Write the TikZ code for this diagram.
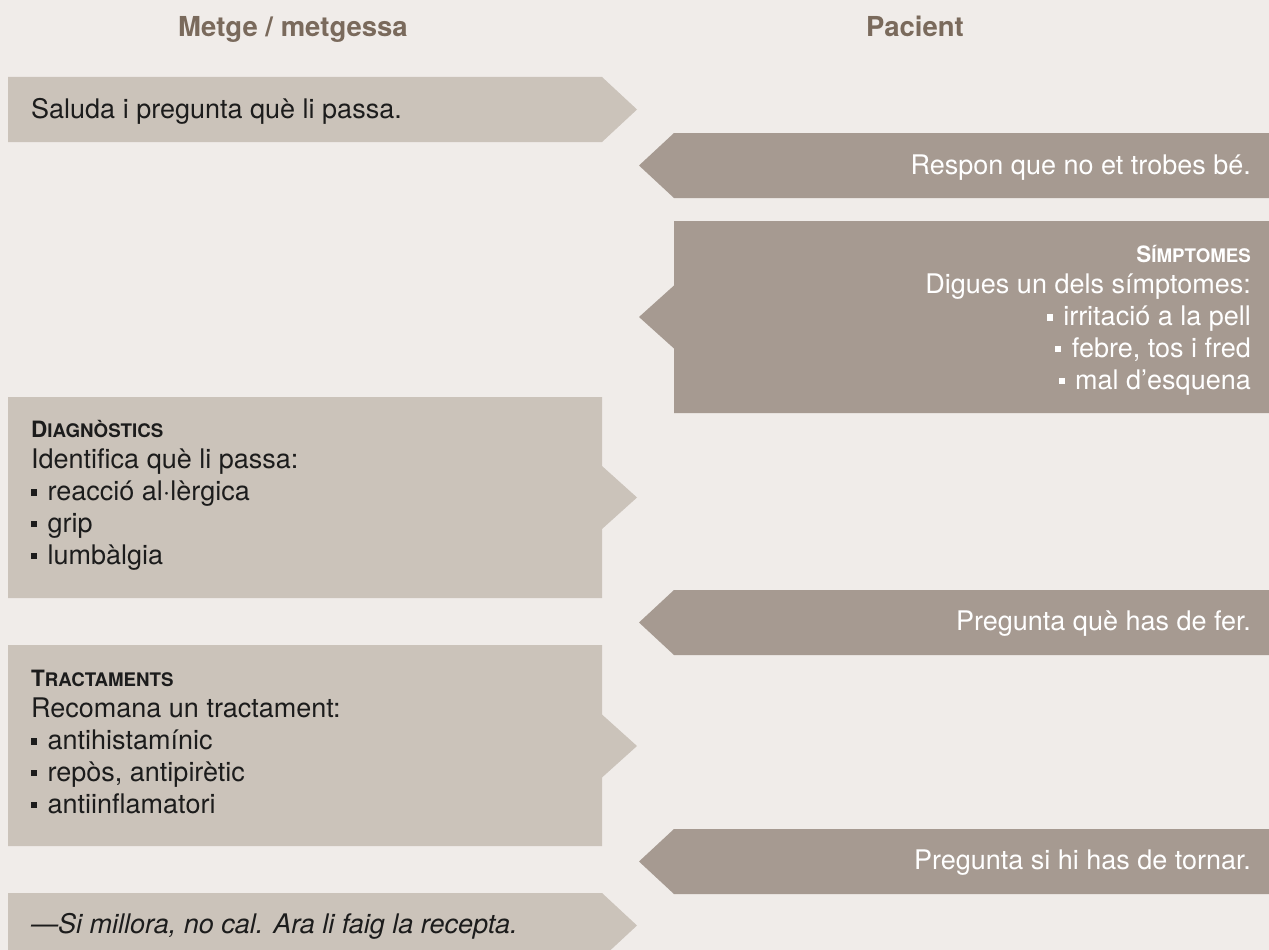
\documentclass[tikz,border=0pt]{standalone}
\usepackage{fontspec}
\setmainfont{TeX Gyre Heros}
\definecolor{bgc}{HTML}{F0ECE9}
\definecolor{lboxc}{HTML}{CBC3BA}
\definecolor{rboxc}{HTML}{A69A91}
\definecolor{headc}{HTML}{7A6A5C}
\definecolor{txtc}{HTML}{1C1C1C}
\newcommand\bul{\rule[5pt]{6pt}{6.5pt}\hspace{10.5pt}}
\newcommand\hd[2]{{\bfseries\fontsize{22.5}{24}\selectfont #1\fontsize{18.7}{24}\selectfont #2}}
\tikzset{
  lbox/.style={fill=lboxc},
  rbox/.style={fill=rboxc},
  head/.style={inner sep=0pt, anchor=base, text=headc, font=\fontsize{27.5}{32}\selectfont\bfseries},
  ltxt/.style={inner sep=0pt, anchor=base west, text=txtc, font=\fontsize{27}{31.75}\selectfont},
  rtxt/.style={inner sep=0pt, anchor=base east, text=white, font=\fontsize{27}{31.75}\selectfont},
}
\begin{document}
\begin{tikzpicture}[x=1pt,y=-1pt]
\useasboundingbox (0,0) rectangle (1269,950);
\fill[bgc] (0,0) rectangle (1269,950);

% headers
\node[head] (hm) at (293,37) {Metge / metgessa};
\node[head] (hp) at (915,37) {Pacient};

% left boxes
\fill[lbox] (8,77) -- (602,77) -- (637,109.5) -- (602,142) -- (8,142) -- cycle;
\fill[lbox] (8,397) -- (602,397) -- (602,466) -- (637,497.5) -- (602,529) -- (602,598) -- (8,598) -- cycle;
\fill[lbox] (8,645) -- (602,645) -- (602,714.5) -- (637,746) -- (602,777.5) -- (602,846) -- (8,846) -- cycle;
\fill[lbox] (8,893) -- (602,893) -- (637,925.5) -- (602,958) -- (8,958) -- cycle;

% right boxes
\fill[rbox] (1269,133) -- (674,133) -- (639,165.5) -- (674,198) -- (1269,198) -- cycle;
\fill[rbox] (1269,221) -- (674,221) -- (674,285.5) -- (639,317) -- (674,348.5) -- (674,413) -- (1269,413) -- cycle;
\fill[rbox] (1269,590) -- (674,590) -- (639,622.5) -- (674,655) -- (1269,655) -- cycle;
\fill[rbox] (1269,829) -- (674,829) -- (639,861.5) -- (674,894) -- (1269,894) -- cycle;

% texts
\node[ltxt] (t1) at (31,118) {Saluda i pregunta què li passa.};
\node[rtxt] (t2) at (1251,174) {Respon que no et trobes bé.};
\node[rtxt] (t3) at (1251,262) {\begin{tabular}[t]{@{}r@{}}\hd{S}{ÍMPTOMES}\\
Digues un dels símptomes:\\
\bul irritació a la pell\\
\bul febre, tos i fred\\
\bul mal d’esquena\end{tabular}};
\node[ltxt] (t4) at (31,437) {\begin{tabular}[t]{@{}l@{}}\hd{D}{IAGNÒSTICS}\\
Identifica què li passa:\\
\bul reacció al·lèrgica\\
\bul grip\\
\bul lumbàlgia\end{tabular}};
\node[rtxt] (t5) at (1251,630.5) {Pregunta què has de fer.};
\node[ltxt] (t6) at (31,686) {\begin{tabular}[t]{@{}l@{}}\hd{T}{RACTAMENTS}\\
Recomana un tractament:\\
\bul antihistamínic\\
\bul repòs, antipirètic\\
\bul antiinflamatori\end{tabular}};
\node[rtxt] (t7) at (1251,869.5) {Pregunta si hi has de tornar.};
\node[ltxt] (t8) at (31,933) {\itshape —Si millora, no cal. Ara li faig la recepta.};
\end{tikzpicture}
\end{document}
